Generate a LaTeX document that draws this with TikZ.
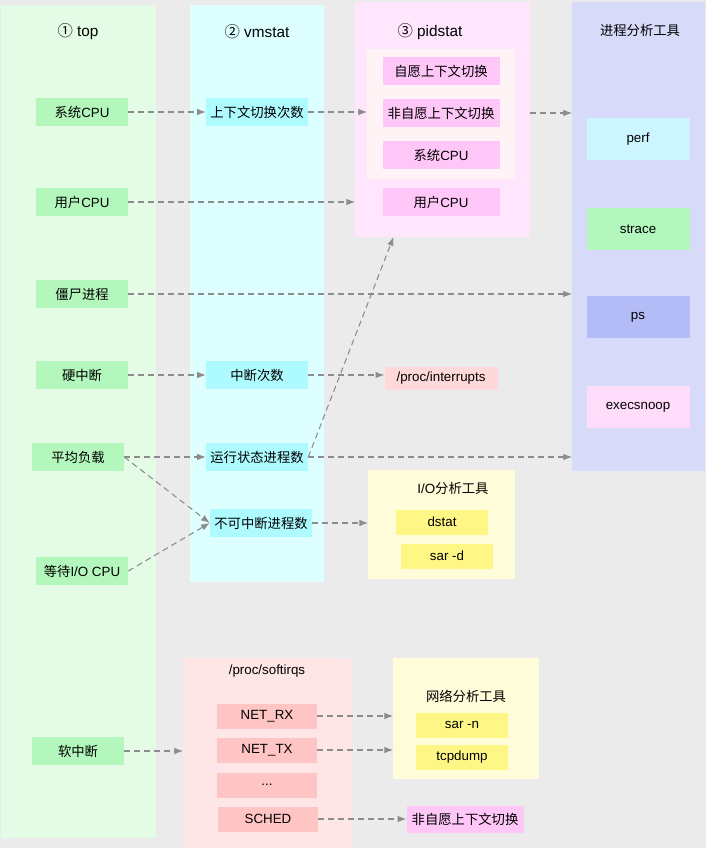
\documentclass[tikz,border=0pt]{standalone}
\usepackage{fontspec}
\setmainfont{Liberation Sans}
\newfontfamily\cjk{Noto Sans CJK SC}
\usetikzlibrary{arrows.meta,calc}
\definecolor{bggray}{HTML}{EBEBEB}
\definecolor{colg}{HTML}{E4FCE6}
\definecolor{colc}{HTML}{DEFFFF}
\definecolor{colp}{HTML}{FFE6FC}
\definecolor{colpin}{HTML}{FFF3F6}
\definecolor{colb}{HTML}{D8DAFA}
\definecolor{coly}{HTML}{FFFCD9}
\definecolor{colr}{HTML}{FFE6E6}
\definecolor{arrowgray}{HTML}{8C8C8C}
\tikzstyle{panel}=[inner sep=0pt,outer sep=0pt]
\tikzstyle{title}=[font=\fontsize{11.5}{13}\selectfont]
\tikzstyle{subtitle}=[font=\fontsize{10}{12}\selectfont]
\tikzstyle{boxg}=[fill={rgb,255:red,179;green,247;blue,188},minimum width=69pt,minimum height=21pt,inner sep=0pt]
\tikzstyle{boxc}=[fill={rgb,255:red,173;green,250;blue,255},minimum width=76.5pt,minimum height=21pt,inner sep=0pt]
\tikzstyle{boxp}=[fill={rgb,255:red,255;green,198;blue,248},minimum width=87.75pt,minimum height=21pt,inner sep=0pt]
\tikzstyle{boxt}=[minimum width=77.25pt,minimum height=31.5pt,inner sep=0pt]
\tikzstyle{boxy}=[fill={rgb,255:red,255;green,247;blue,133},minimum width=69pt,minimum height=18.75pt,inner sep=0pt]
\tikzstyle{boxr}=[fill={rgb,255:red,255;green,196;blue,196},minimum width=75pt,minimum height=18.75pt,inner sep=0pt]
\tikzstyle{flow}=[draw=arrowgray,line width=0.8pt,dash pattern=on 4.5pt off 3pt,-{Latex[length=6.5pt,width=5pt]}]

\begin{document}
\begin{tikzpicture}[x=0.75pt,y=-0.75pt,font=\fontsize{10}{12}\selectfont]
    \useasboundingbox (0,0) rectangle (706,848);
    \fill[bggray] (0,0) rectangle (706,848);
    % columns and groups
    \node[panel,fill=colg,minimum width=116.25pt,minimum height=624.75pt] (ptop) at (78.5,421.5) {};
    \node[panel,fill=colc,minimum width=100.5pt,minimum height=432.75pt] (pvm) at (257,293.5) {};
    \node[panel,fill=colp,minimum width=131.25pt,minimum height=176.25pt] (ppid) at (442.5,119.5) {};
    \node[panel,fill=colpin,minimum width=111pt,minimum height=97.5pt] (pinner) at (441,114) {};
    \node[panel,fill=colb,minimum width=99.75pt,minimum height=351.75pt] (ptool) at (638.5,236.5) {};
    \node[panel,fill=coly,minimum width=110.25pt,minimum height=81.75pt] (pio) at (441.5,524.5) {};
    \node[panel,fill=colr,minimum width=126pt,minimum height=142.5pt] (psoft) at (267,753) {};
    \node[panel,fill=coly,minimum width=109.5pt,minimum height=90.75pt] (pnet) at (466,718.5) {};
    % titles
    \node[title] (ttop) at (78,32)  {{\cjk ①} top};
    \node[title] (tvm)  at (257,32) {{\cjk ②} vmstat};
    \node[title] (tpid) at (430,32) {{\cjk ③} pidstat};
    \node[subtitle] (ttool) at (640,30)  {\cjk 进程分析工具};
    \node[subtitle] (tio)   at (453,488) {I/O{\cjk 分析工具}};
    \node[subtitle] (tsoft) at (267,671) {/proc/softirqs};
    \node[subtitle] (tnet)  at (466,696) {\cjk 网络分析工具};
    % top
    \node[boxg] (t1) at (82,112)  {{\cjk 系统}CPU};
    \node[boxg] (t2) at (82,202)  {{\cjk 用户}CPU};
    \node[boxg] (t3) at (82,294)  {\cjk 僵尸进程};
    \node[boxg] (t4) at (82,375)  {\cjk 硬中断};
    \node[boxg] (t5) at (78,457)  {\cjk 平均负载};
    \node[boxg] (t6) at (82,571)  {{\cjk 等待}I/O CPU};
    \node[boxg] (t7) at (78,751)  {\cjk 软中断};
    % vmstat
    \node[boxc] (v1) at (257,112) {\cjk 上下文切换次数};
    \node[boxc] (v2) at (257,375) {\cjk 中断次数};
    \node[boxc] (v3) at (257,457) {\cjk 运行状态进程数};
    \node[boxc] (v4) at (261,523) {\cjk 不可中断进程数};
    % pidstat
    \node[boxp] (p1) at (441,71)  {\cjk 自愿上下文切换};
    \node[boxp] (p2) at (441,113) {\cjk 非自愿上下文切换};
    \node[boxp] (p3) at (441,155) {{\cjk 系统}CPU};
    \node[boxp] (p4) at (441,202) {{\cjk 用户}CPU};
    % process tools
    \node[boxt,fill={rgb,255:red,204;green,245;blue,255}] (k1) at (638,139) {perf};
    \node[boxt,fill={rgb,255:red,179;green,247;blue,188}] (k2) at (638,229) {strace};
    \node[boxt,fill={rgb,255:red,179;green,188;blue,247}] (k3) at (638,317) {ps};
    \node[boxt,fill={rgb,255:red,255;green,221;blue,250}] (k4) at (638,407) {execsnoop};
    % others
    \node[fill={rgb,255:red,255;green,217;blue,217},minimum width=84.75pt,minimum height=17.25pt,inner sep=0pt] (irq) at (441,378) {/proc/interrupts};
    \node[boxy] (d1) at (442,522) {dstat};
    \node[boxy] (d2) at (447,556) {sar -d};
    \node[boxr] (s1) at (267,716) {NET\_RX};
    \node[boxr] (s2) at (267,750) {NET\_TX};
    \node[boxr] (s3) at (267,785) {...};
    \node[boxr] (s4) at (268,819) {SCHED};
    \node[boxy] (n1) at (462,725) {sar -n};
    \node[boxy] (n2) at (462,757) {tcpdump};
    \node[boxp,minimum height=20.25pt] (n0) at (465,819) {\cjk 非自愿上下文切换};
    % arrows
    \draw[flow] (t1.east) -- (v1.west);
    \draw[flow] (v1.east) -- (pinner.west |- v1);
    \draw[flow] (ppid.east |- p2) -- (ptool.west |- p2);
    \draw[flow] (t2.east) -- (ppid.west |- t2);
    \draw[flow] (t3.east) -- (ptool.west |- t3);
    \draw[flow] (t4.east) -- (v2.west);
    \draw[flow] (v2.east) -- (irq.west |- v2);
    \draw[flow] (t5.east) -- (v3.west);
    \draw[flow] (t5.east) -- (v4.west);
    \draw[flow] (t6.east) -- (v4.west);
    \draw[flow] (v3.east) -- (ptool.west |- v3);
    \draw[flow] (v3.east) -- ($(ppid.south west)!0.22!(ppid.south east)$);
    \draw[flow] (v4.east) -- (pio.west |- v4);
    \draw[flow] (t7.east) -- (psoft.west |- t7);
    \draw[flow] (s1.east) -- (pnet.west |- s1);
    \draw[flow] (s2.east) -- (pnet.west |- s2);
    \draw[flow] (s4.east) -- (n0.west);
\end{tikzpicture}
\end{document}
